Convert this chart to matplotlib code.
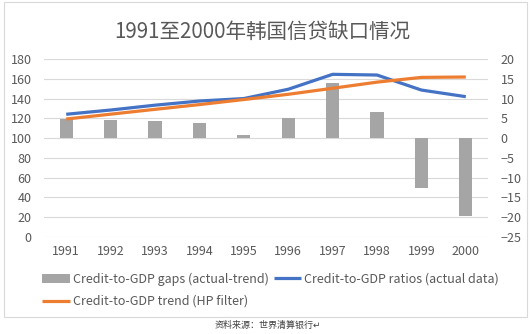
import matplotlib
matplotlib.use("Agg")
import matplotlib.pyplot as plt
from matplotlib.patches import Rectangle

plt.rcParams['font.family'] = ['Noto Sans CJK SC', 'DejaVu Sans']

years = ['1991', '1992', '1993', '1994', '1995', '1996', '1997', '1998', '1999', '2000']
gaps = [4.8, 4.6, 4.2, 3.8, 0.8, 5.2, 14.0, 6.6, -12.7, -19.6]
ratios = [124.1, 128.4, 133.3, 137.5, 140.0, 149.4, 164.5, 163.8, 148.6, 141.9]
trend = [119.3, 124.2, 129.1, 133.9, 139.0, 144.3, 150.4, 156.6, 161.4, 161.8]
left_ticks = [0, 20, 40, 60, 80, 100, 120, 140, 160, 180]
right_ticks = [-25, -20, -15, -10, -5, 0, 5, 10, 15, 20]

title = '1991至2000年韩国信贷缺口情况'
source = '资料来源：世界清算银行↵'
lbl_gap = 'Credit-to-GDP gaps (actual-trend)'
lbl_ratio = 'Credit-to-GDP ratios (actual data)'
lbl_trend = 'Credit-to-GDP trend (HP filter)'

GRAY = '#A5A5A5'
BLUE = '#4472C4'
ORANGE = '#ED7D31'
TXT = '#595959'
GRID = '#D9D9D9'

W, H = 531, 334
fig = plt.figure(figsize=(W / 100, H / 100), dpi=100)
fig.patch.set_facecolor('white')

# chart border
fig.patches.append(Rectangle((4 / W, 1 - 317 / H), (527 - 4) / W, (317 - 2) / H,
                             transform=fig.transFigure, fill=False,
                             edgecolor=GRID, linewidth=0.8))

ax = fig.add_axes([44 / W, 1 - 237 / H, (488 - 44) / W, (237 - 59) / H])
ax2 = ax.twinx()

x = list(range(len(years)))

# bars on bottom axes (right scale), lines on top axes (left scale)
bars = ax.bar(x, gaps, width=0.3, color=GRAY, zorder=2, label=lbl_gap)
ax.set_ylim(-25, 20)
ax.set_yticks(right_ticks)
ax.yaxis.tick_right()
ax.yaxis.set_label_position('right')
ax.grid(axis='y', color=GRID, linewidth=0.8, zorder=0)
ax.set_axisbelow(True)

l1, = ax2.plot(x, ratios, color=BLUE, linewidth=2.3, label=lbl_ratio, solid_capstyle='butt')
l2, = ax2.plot(x, trend, color=ORANGE, linewidth=2.3, label=lbl_trend, solid_capstyle='butt')
ax2.set_ylim(0, 180)
ax2.set_yticks(left_ticks)
ax2.yaxis.tick_left()
ax2.yaxis.set_label_position('left')

ax.set_xlim(-0.5, len(years) - 0.5)
ax.set_xticks(x)
ax.set_xticklabels(years)

for a in (ax, ax2):
    for s in a.spines.values():
        s.set_visible(False)
    a.tick_params(length=0, colors=TXT, labelsize=9)
ax.tick_params(axis='y', pad=9)
ax2.tick_params(axis='y', pad=9)
ax.tick_params(axis='x', pad=6)

fig.text(262 / W, 1 - 32 / H, title, ha='center', va='center', fontsize=14.8, color=TXT)

fig.legend([bars, l2, l1], [lbl_gap, lbl_trend, lbl_ratio], ncol=2,
           loc='upper left', bbox_to_anchor=(36 / W, 1 - 266 / H),
           frameon=False, fontsize=9, labelcolor=TXT, handlelength=2.2,
           handletextpad=0.25, columnspacing=0.4, borderpad=0, labelspacing=0.75)

fig.text(268 / W, 1 - 325 / H, source, ha='center', va='center', fontsize=6.5,
         color='#404040', family=['Noto Sans CJK SC', 'DejaVu Sans'])

fig.savefig('out.png', dpi=100, facecolor='white')
